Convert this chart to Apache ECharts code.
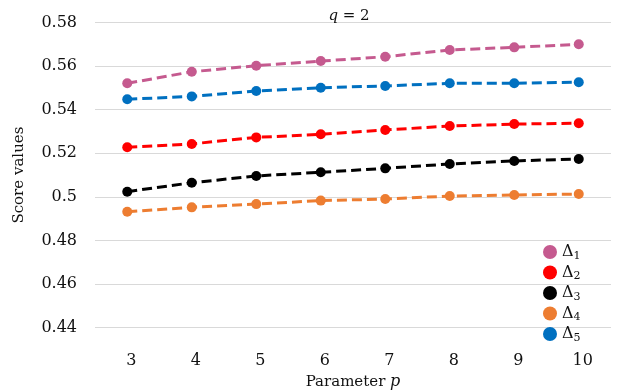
<!DOCTYPE html>
<html><head><meta charset="utf-8">
<script src="https://cdn.jsdelivr.net/npm/echarts@6/dist/echarts.min.js"></script>
<style>html,body{margin:0;padding:0;background:#fff}#c{width:618px;height:392px}</style>
</head><body><div id="c"></div>
<script>
const categories = ['3','4','5','6','7','8','9','10'];
const delta1 = [0.5521,0.5574,0.5602,0.5623,0.5643,0.5674,0.5686,0.5700];
const delta2 = [0.5228,0.5243,0.5273,0.5287,0.5307,0.5325,0.5334,0.5338];
const delta3 = [0.5024,0.5065,0.5096,0.5113,0.5131,0.5151,0.5165,0.5174];
const delta4 = [0.4932,0.4952,0.4967,0.4983,0.4990,0.5004,0.5009,0.5013];
const delta5 = [0.5448,0.5461,0.5486,0.5501,0.5509,0.5521,0.5521,0.5526];
const seriesNames = ['Δ1','Δ2','Δ3','Δ4','Δ5'];
const seriesData = [delta1, delta2, delta3, delta4, delta5];
const colors = ['#c55a8f','#ff0000','#000000','#ed7d31','#0070c0'];
const yTicks = {min:0.44, max:0.58, interval:0.02};
const FONT = 'DejaVu Serif';
const TXT = '#111';

const chart = echarts.init(document.getElementById('c'));
chart.setOption({
  animation:false,
  title:{
    text:'{i|q} = 2', left:344, top:4, textAlign:'center',
    textStyle:{fontFamily:FONT, fontSize:15, fontWeight:'normal', color:TXT,
      rich:{i:{fontFamily:FONT, fontStyle:'italic', fontSize:15, color:TXT}}}
  },
  grid:{left:95, right:7, top:22.5, bottom:64.3, outerBoundsMode:'none', containLabel:false},
  legend:{
    orient:'vertical', left:538, top:239, itemWidth:14, itemHeight:14, itemGap:3,
    icon:'circle', data:seriesNames,
    formatter:function(n){return '{a|Δ}{s|'+n.slice(1)+'}';},
    textStyle:{fontFamily:FONT, color:TXT,
      rich:{a:{fontFamily:FONT, fontSize:16, color:TXT}, s:{fontFamily:FONT, fontSize:11, color:TXT, padding:[8,0,0,0]}}}
  },
  xAxis:{
    type:'category', data:categories, boundaryGap:true,
    axisLine:{show:false}, axisTick:{show:false},
    axisLabel:{fontFamily:FONT, fontSize:16, color:TXT, margin:25, padding:[0,0,0,8]},
    name:'Parameter {i|p}', nameLocation:'middle', nameGap:46,
    nameTextStyle:{fontFamily:FONT, fontSize:15, color:TXT,
      rich:{i:{fontFamily:FONT, fontStyle:'italic', fontSize:16, color:TXT}}}
  },
  yAxis:{
    type:'value', min:yTicks.min, max:yTicks.max, interval:yTicks.interval,
    axisLine:{show:false}, axisTick:{show:false},
    splitLine:{lineStyle:{color:'#d9d9d9', width:1}},
    axisLabel:{fontFamily:FONT, fontSize:16, color:TXT, margin:18,
      formatter:function(v){return String(parseFloat(v.toFixed(2)));}},
    name:'Score values', nameLocation:'middle', nameGap:68,
    nameTextStyle:{fontFamily:FONT, fontSize:15, color:TXT}
  },
  series: seriesNames.map(function(n,i){return {
    name:n, type:'line', data:seriesData[i], symbol:'circle', symbolSize:10,
    itemStyle:{color:colors[i]},
    lineStyle:{color:colors[i], width:3, type:[10,5]}
  };})
});
</script></body></html>
